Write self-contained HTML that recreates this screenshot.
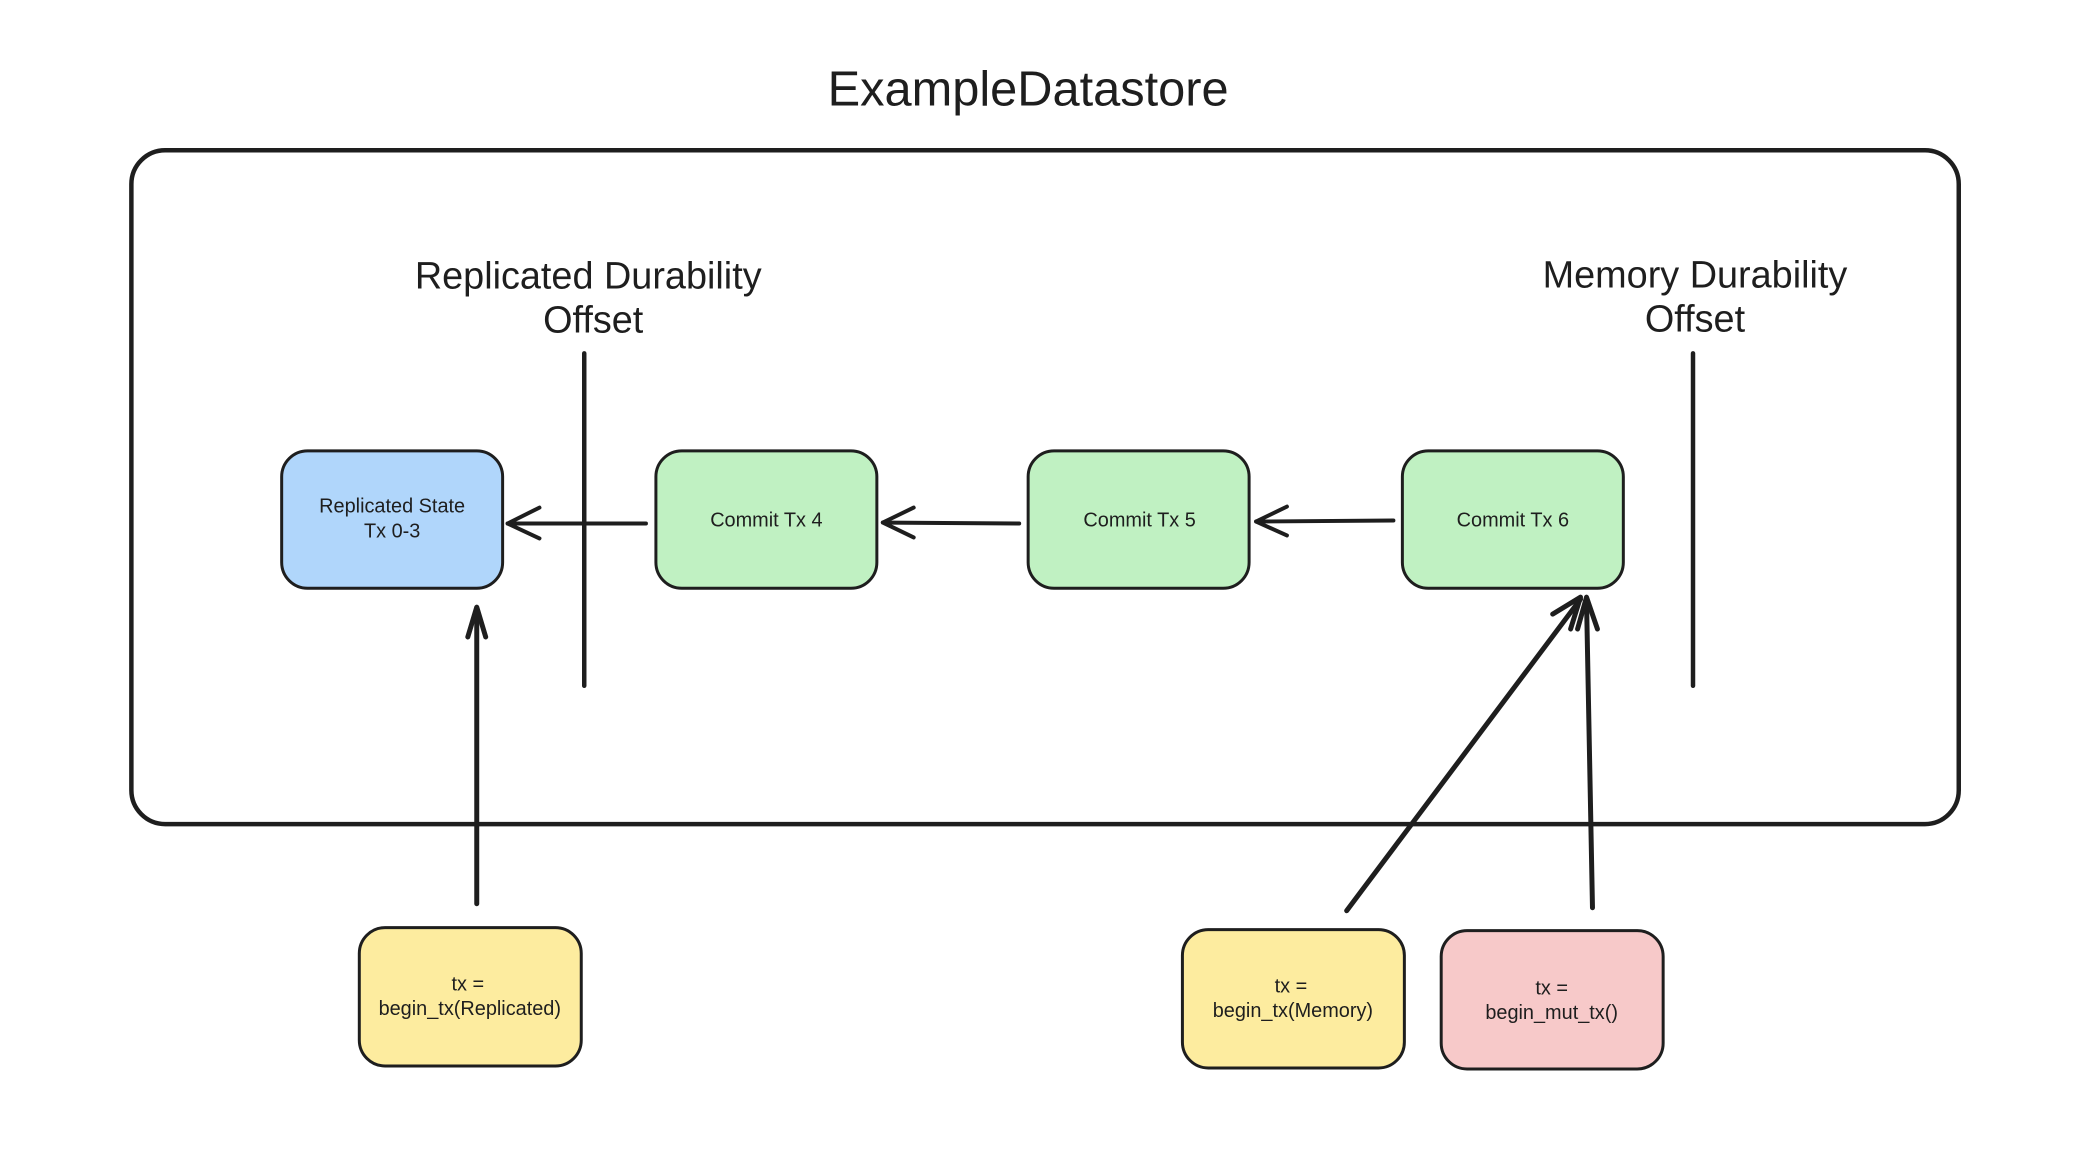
<!DOCTYPE html>
<html><head><style>
html,body{margin:0;padding:0;background:#fff;}
svg{display:block;}
text{font-family:"Liberation Sans",sans-serif;fill:#1e1e1e;}
</style></head><body>
<svg width="2080" height="1154" viewBox="0 0 2080 1154" xmlns="http://www.w3.org/2000/svg">
<rect width="2080" height="1154" fill="#fff"/>
<g transform="scale(0.9953)">
<text x="1033" y="106" font-size="49" text-anchor="middle">ExampleDatastore</text>
<rect x="132" y="151" width="1836" height="677" rx="34" fill="none" stroke="#1e1e1e" stroke-width="4.5"/>
<text x="591" y="290" font-size="38" text-anchor="middle">Replicated Durability</text>
<text x="596" y="334" font-size="38" text-anchor="middle">Offset</text>
<text x="1703" y="289" font-size="38" text-anchor="middle">Memory Durability</text>
<text x="1703" y="333" font-size="38" text-anchor="middle">Offset</text>
<g stroke="#1e1e1e" stroke-width="4.5" stroke-linecap="round" fill="none">
<line x1="587" y1="355" x2="587" y2="689"/>
<line x1="1701" y1="355" x2="1701" y2="689"/>
</g>
<g stroke="#1e1e1e" stroke-width="3" fill="#b0d6fb"><rect x="283" y="453" width="222" height="138" rx="26"/></g>
<g stroke="#1e1e1e" stroke-width="3" fill="#c0f1c2">
<rect x="659" y="453" width="222" height="138" rx="26"/>
<rect x="1033" y="453" width="222" height="138" rx="26"/>
<rect x="1409" y="453" width="222" height="138" rx="26"/>
</g>
<g stroke="#1e1e1e" stroke-width="3" fill="#fdec9f">
<rect x="361" y="932" width="223" height="139" rx="26"/>
<rect x="1188" y="934" width="223" height="139" rx="26"/>
</g>
<rect x="1448" y="935" width="223" height="139" rx="26" stroke="#1e1e1e" stroke-width="3" fill="#f7c9c9"/>
<g font-size="20" text-anchor="middle">
<text x="394" y="515">Replicated State</text>
<text x="394" y="540">Tx 0-3</text>
<text x="770" y="529">Commit Tx 4</text>
<text x="1145" y="529">Commit Tx 5</text>
<text x="1520" y="529">Commit Tx 6</text>
<text x="470" y="995">tx =</text>
<text x="472" y="1020">begin_tx(Replicated)</text>
<text x="1297" y="997">tx =</text>
<text x="1299" y="1022">begin_tx(Memory)</text>
<text x="1559" y="999">tx =</text>
<text x="1559" y="1024">begin_mut_tx()</text>
</g>
<g stroke="#1e1e1e" stroke-width="4" stroke-linecap="round" stroke-linejoin="round" fill="none">
<line x1="649" y1="526" x2="510" y2="526"/>
<polyline points="542,510 510,526 542,541"/>
<line x1="1024" y1="526" x2="887" y2="525"/>
<polyline points="918,510 887,525 918,540"/>
<line x1="1400" y1="523" x2="1262" y2="524"/>
<polyline points="1293,509 1262,524 1293,538"/>
<g stroke-width="5">
<line x1="479" y1="908" x2="479" y2="612"/>
<polyline points="470,640 479,610 488,640"/>
<line x1="1353" y1="915" x2="1588" y2="602"/>
<polyline points="1560,617 1588,600 1578,632"/>
<line x1="1600" y1="912" x2="1594" y2="603"/>
<polyline points="1585,632 1594,600 1605,632"/>
</g>
</g>
</g>
</svg>
</body></html>
